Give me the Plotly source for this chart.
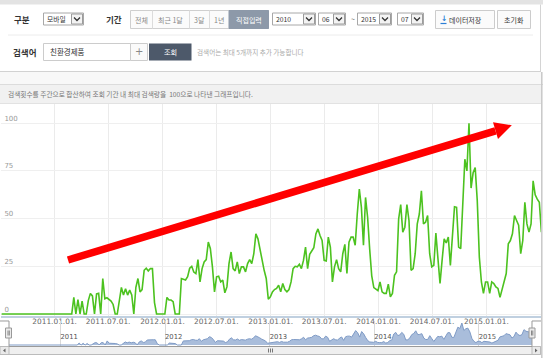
import plotly.graph_objects as go
import pandas as pd

W, H = 543, 358

# ---------------- data ----------------
start_date = "2010-07-05"
search_index = [
    0, 0, 0, 0, 0, 0, 0, 0, 0, 0,
    0, 0, 0, 0, 0, 0, 0, 0, 0, 0,
    0, 0, 0, 0, 0, 0, 0, 0, 0, 0,
    0, 0, 0, 0, 0, 8.7, 0, 7.6, 0, 6.8,
    0, 0, 7, 10.8, 9.5, 0, 10.5, 10.8, 0, 18.6,
    8, 8.5, 7.5, 6.8, 5, 0, 0, 8.5, 13.9, 9.9,
    13.2, 9.9, 12.5, 10, 0, 14, 18.6, 11.6, 12.8, 22.9,
    24, 22.5, 23.8, 23.8, 6, 0, 0, 0, 0, 0,
    8.7, 7.3, 7.3, 6.5, 0, 0, 0, 18.6, 18, 17.8,
    19.5, 24, 25, 22, 21.2, 28.5, 16.8, 23.8, 27.3, 28.5,
    37.7, 34.2, 24.7, 11.6, 19.5, 19.8, 16.8, 17.7, 11.1, 14.2,
    26.4, 32.5, 23.8, 22.6, 27.3, 21.2, 24.7, 24.7, 22.1, 26.4,
    28.5, 26.4, 31.6, 42, 39.4, 33.3, 27.3, 22.9, 18.6, 7.8,
    9, 11.6, 12.8, 13.4, 15.1, 11.6, 16, 12.8, 11.6, 12.8,
    16.8, 23.8, 25, 24.7, 26.1, 23.8, 28.1, 35.1, 23.8, 31.3,
    33, 34.7, 42, 44.6, 41.1, 38.5, 28.1, 27.8, 40.3, 35.1,
    16.8, 24.7, 28.5, 23.8, 22.1, 31.6, 36.5, 21.2, 37.7, 40.3,
    40.3, 36, 52.4, 65.5, 55.9, 36, 61.1, 50.7, 34, 20,
    13.8, 13, 12.2, 16.8, 11.6, 10.8, 10.8, 15.6, 9, 10.8,
    20.3, 22.1, 49.8, 57.3, 42.9, 45.5, 57.3, 49, 22.9, 23.8,
    31.6, 47.2, 52.4, 64.6, 47.2, 48.1, 51.6, 31.6, 24.7, 25.5,
    42.4, 29, 16, 28.1, 39.4, 37.2, 40.3, 25.5, 43.4, 56.2,
    55.9, 35.1, 34.2, 61.1, 81.1, 75, 100, 66, 74, 76.7,
    59.4, 29.9, 16.8, 10.8, 16.8, 16.8, 10.8, 16.8, 16, 14.2,
    13.4, 8.7, 12.5, 16, 21.2, 36.8, 38.5, 42, 51.6, 49,
    46.5, 31.6, 38.5, 58.5, 47.2, 42.9, 47.2, 69.8, 62.5, 60.2,
    58.5, 42.9,
]
dates = pd.date_range(start_date, periods=len(search_index), freq="7D")

y_tickvals = [0, 25, 50, 75, 100]
y_ticktext = ["0", "25", "50", "75", "100"]
x_tickvals = ["2011-01-01", "2011-07-01", "2012-01-01", "2012-07-01", "2013-01-01",
              "2013-07-01", "2014-01-01", "2014-07-01", "2015-01-01"]
x_ticktext = ["2011.01.01.", "2011.07.01.", "2012.01.01.", "2012.07.01.", "2013.01.01.",
              "2013.07.01.", "2014.01.01.", "2014.07.01.", "2015.01.01."]
nav_tickvals = ["2011-01-01", "2012-01-01", "2013-01-01", "2014-01-01", "2015-01-01"]
nav_ticktext = ["2011", "2012", "2013", "2014", "2015"]

KR = "Noto Sans CJK KR"
NUM = "DejaVu Sans"


def X(px):
    return px / W


def Y(py):
    return 1 - py / H


shapes = []
annotations = []


def rect(x0, y0, x1, y1, fill=None, line=None, lw=1, layer="above"):
    shapes.append(dict(type="rect", xref="paper", yref="paper",
                       x0=X(x0), x1=X(x1), y0=Y(y1), y1=Y(y0),
                       fillcolor=fill or "rgba(0,0,0,0)",
                       line=dict(color=line or "rgba(0,0,0,0)", width=lw if line else 0),
                       layer=layer))


def seg(x0, y0, x1, y1, color, lw=1, layer="above"):
    shapes.append(dict(type="line", xref="paper", yref="paper",
                       x0=X(x0), x1=X(x1), y0=Y(y0), y1=Y(y1),
                       line=dict(color=color, width=lw), layer=layer))


def poly(points, color=None, fill=None, lw=1, close=False):
    d = "M " + " L ".join("%f,%f" % (X(a), Y(b)) for a, b in points)
    if close:
        d += " Z"
    shapes.append(dict(type="path", xref="paper", yref="paper", path=d,
                       fillcolor=fill or "rgba(0,0,0,0)",
                       line=dict(color=color or "rgba(0,0,0,0)", width=lw if color else 0),
                       layer="above"))


def txt(x, y, s, size, color, bold=False, anchor="left", family=KR):
    annotations.append(dict(xref="paper", yref="paper", x=X(x), y=Y(y),
                            text=("<b>%s</b>" % s if bold else s), showarrow=False,
                            xanchor=anchor, yanchor="middle", borderpad=0,
                            font=dict(family=family, size=size, color=color)))


def select(x0, x1, label, y0=13, y1=25):
    rect(x0, y0, x1, y1, fill="white", line="#a8a8a8")
    rect(x1 - 12, y0 + 1, x1 - 1, y1 - 1, fill="#f3f3f3", line="#9c9c9c")
    cx, cy = x1 - 6.5, (y0 + y1) / 2
    poly([(cx - 3, cy - 1.5), (cx, cy + 1.5), (cx + 3, cy - 1.5)], color="#333", lw=1.3)
    txt(x0 + 2.5, (y0 + y1) / 2, label, 6.8, "#333")


# ---------------- UI chrome (top panel) ----------------
rect(0, 0, 543, 4.5, fill="#e3e3e3", layer="below")
seg(540.5, 4.5, 540.5, 71.5, "#d4d4d4")
seg(0, 71.5, 541, 71.5, "#d2d2d2")
seg(8, 35, 533, 35, "#ececec")
rect(0, 72, 541, 84, fill="#f8f8f8", layer="below")
rect(0, 85, 541, 103, fill="#f1f1f1", layer="below")
seg(0, 84.5, 543, 84.5, "#dcdcdc")
seg(0, 103.5, 541, 103.5, "#e2e2e2")
seg(541.8, 72, 541.8, 358, "#c8c8c8", lw=1.5)

# row 1
txt(13, 19, "구분", 8.5, "#333", bold=True)
select(43.5, 83.5, "모바일")
txt(105, 19, "기간", 8.5, "#333", bold=True)
rect(130.5, 10.5, 268.5, 28.5, fill="#fbfbfb", line="#cfcfcf")
for xd in [152, 189, 209]:
    seg(xd + 0.5, 10.5, xd + 0.5, 28.5, "#dcdcdc")
rect(229, 10.5, 268.5, 28.5, fill="#8d99a9", line="#8d99a9")
txt(141, 19.5, "전체", 7, "#888", anchor="center")
txt(170.5, 19.5, "최근 1달", 7, "#888", anchor="center")
txt(199, 19.5, "3달", 7, "#888", anchor="center")
txt(219, 19.5, "1년", 7, "#888", anchor="center")
txt(248.7, 19.5, "직접입력", 7, "white", anchor="center")
select(272.5, 315.5, "2010")
select(318.5, 345.5, "06")
txt(352.5, 19, "~", 7, "#666", anchor="center")
select(357.5, 391.5, "2015")
select(397.5, 423.5, "07")
rect(435.5, 10.5, 494.5, 28.5, fill="#fbfbfb", line="#cccccc")
txt(443.5, 18.5, "↓", 7.5, "#2c7fd6", bold=True, anchor="center", family=NUM)
seg(440.5, 23.5, 446.5, 23.5, "#2c7fd6", lw=1.2)
txt(447.5, 19.5, "데이터저장", 7, "#333")
rect(497.5, 10.5, 530.5, 28.5, fill="#fbfbfb", line="#cccccc")
txt(514, 19.5, "초기화", 7, "#333", anchor="center")

# row 2
txt(12, 52, "검색어", 8.5, "#333", bold=True)
rect(43.5, 43.5, 130.5, 60.5, fill="white", line="#cccccc")
txt(48.5, 52, "친환경제품", 7.5, "#333")
rect(130.5, 43.5, 147.5, 60.5, fill="#fafafa", line="#cccccc")
txt(139, 51.5, "+", 10, "#888", anchor="center", family=NUM)
rect(149, 43.5, 191.5, 60.5, fill="#4d596a")
txt(170.2, 52, "조회", 7.2, "white", anchor="center")
txt(196, 52, "검색어는 최대 5개까지 추가 가능합니다", 6.6, "#aaaaaa")

# header description
txt(7, 93.8, "검색횟수를 주간으로 합산하여 조회 기간 내 최대 검색량을  100으로 나타낸 그래프입니다.", 6.7, "#777")

# ---------------- navigator outline / handles / scrollbar ----------------
rect(0, 346.5, 540.5, 354.5, fill="#efefef", line="#bbbbbb")
rect(0, 346.5, 9, 354.5, fill="#e9e9e9", line="#bbbbbb")
rect(532, 346.5, 540.5, 354.5, fill="#e9e9e9", line="#bbbbbb")
poly([(5.5, 348.5), (3, 350.5), (5.5, 352.5)], fill="#666", close=True)
poly([(535, 348.5), (537.5, 350.5), (535, 352.5)], fill="#666", close=True)
for gx in [268.5, 270.5, 272.5]:
    seg(gx, 348.5, gx, 352.5, "#777")
poly([(0, 321), (9, 321), (9, 346.5), (532, 346.5), (532, 321), (541, 321)], color="#9a9a9a", lw=1)
for hx in [5.5, 529]:
    rect(hx, 328, hx + 6, 338, fill="#ebebeb", line="#999999")
    seg(hx + 2.5, 330.5, hx + 2.5, 335.5, "#888")
    seg(hx + 3.8, 330.5, hx + 3.8, 335.5, "#888")

# ---------------- red trend arrow (overlay) ----------------
seg(68, 260, 495.5, 130.8, "#ff0000", lw=7.5)
poly([(511.8, 125.2), (493.0, 122.3), (498.0, 139.0)], fill="#ff0000", close=True)

# ---------------- traces ----------------
fig = go.Figure()
fig.add_trace(go.Scatter(x=dates, y=search_index, mode="lines",
                         line=dict(color="#4cc21f", width=1.6),
                         xaxis="x", yaxis="y", hoverinfo="skip", showlegend=False))
fig.add_trace(go.Scatter(x=dates, y=search_index, mode="lines",
                         line=dict(color="#7f9bc6", width=1),
                         fill="tozeroy", fillcolor="#a9bddb",
                         xaxis="x2", yaxis="y2", hoverinfo="skip", showlegend=False))

px_per_unit = 1.908
y_zero = 314.0
main_top, main_bot = 103.5, 316.0
nav_top, nav_bot = 321.0, 346.0
nav_zero, nav_ppu = 345.0, 0.22

fig.update_layout(
    width=W, height=H,
    margin=dict(l=0, r=0, t=0, b=0),
    paper_bgcolor="white", plot_bgcolor="white",
    showlegend=False,
    xaxis=dict(domain=[X(1.4), X(541.4)], range=[dates[0], dates[-1]],
               tickvals=x_tickvals, ticktext=x_ticktext,
               showgrid=True, gridcolor="#ebebeb", gridwidth=1,
               zeroline=False, showline=True, linecolor="#c0d0e0", linewidth=1.5,
               ticks="", ticklabelstandoff=-3,
               tickfont=dict(family=NUM, size=7.4, color="#666"),
               anchor="y", fixedrange=True),
    yaxis=dict(domain=[Y(main_bot), Y(main_top)],
               range=[-(main_bot - y_zero) / px_per_unit, (y_zero - main_top) / px_per_unit],
               tickvals=y_tickvals, ticktext=y_ticktext,
               ticklabelposition="inside top",
               showgrid=True, gridcolor="#efefef", zeroline=False, showline=False,
               ticks="", tickfont=dict(family=NUM, size=7, color="#999"),
               anchor="x", fixedrange=True),
    xaxis2=dict(domain=[X(9), X(532)], range=[dates[0], dates[-1]],
                tickvals=nav_tickvals, ticktext=nav_ticktext,
                ticklabelposition="inside right",
                showgrid=True, gridcolor="#d9d9d9", zeroline=False, showline=False,
                ticks="", tickfont=dict(family=NUM, size=6.8, color="#555"),
                anchor="y2", fixedrange=True),
    yaxis2=dict(domain=[Y(nav_bot), Y(nav_top)],
                range=[-(nav_bot - nav_zero) / nav_ppu, (nav_zero - nav_top) / nav_ppu],
                showticklabels=False, showgrid=False, zeroline=False, showline=False,
                anchor="x2", fixedrange=True),
    shapes=shapes,
    annotations=annotations,
)

fig.write_html("out.html")
